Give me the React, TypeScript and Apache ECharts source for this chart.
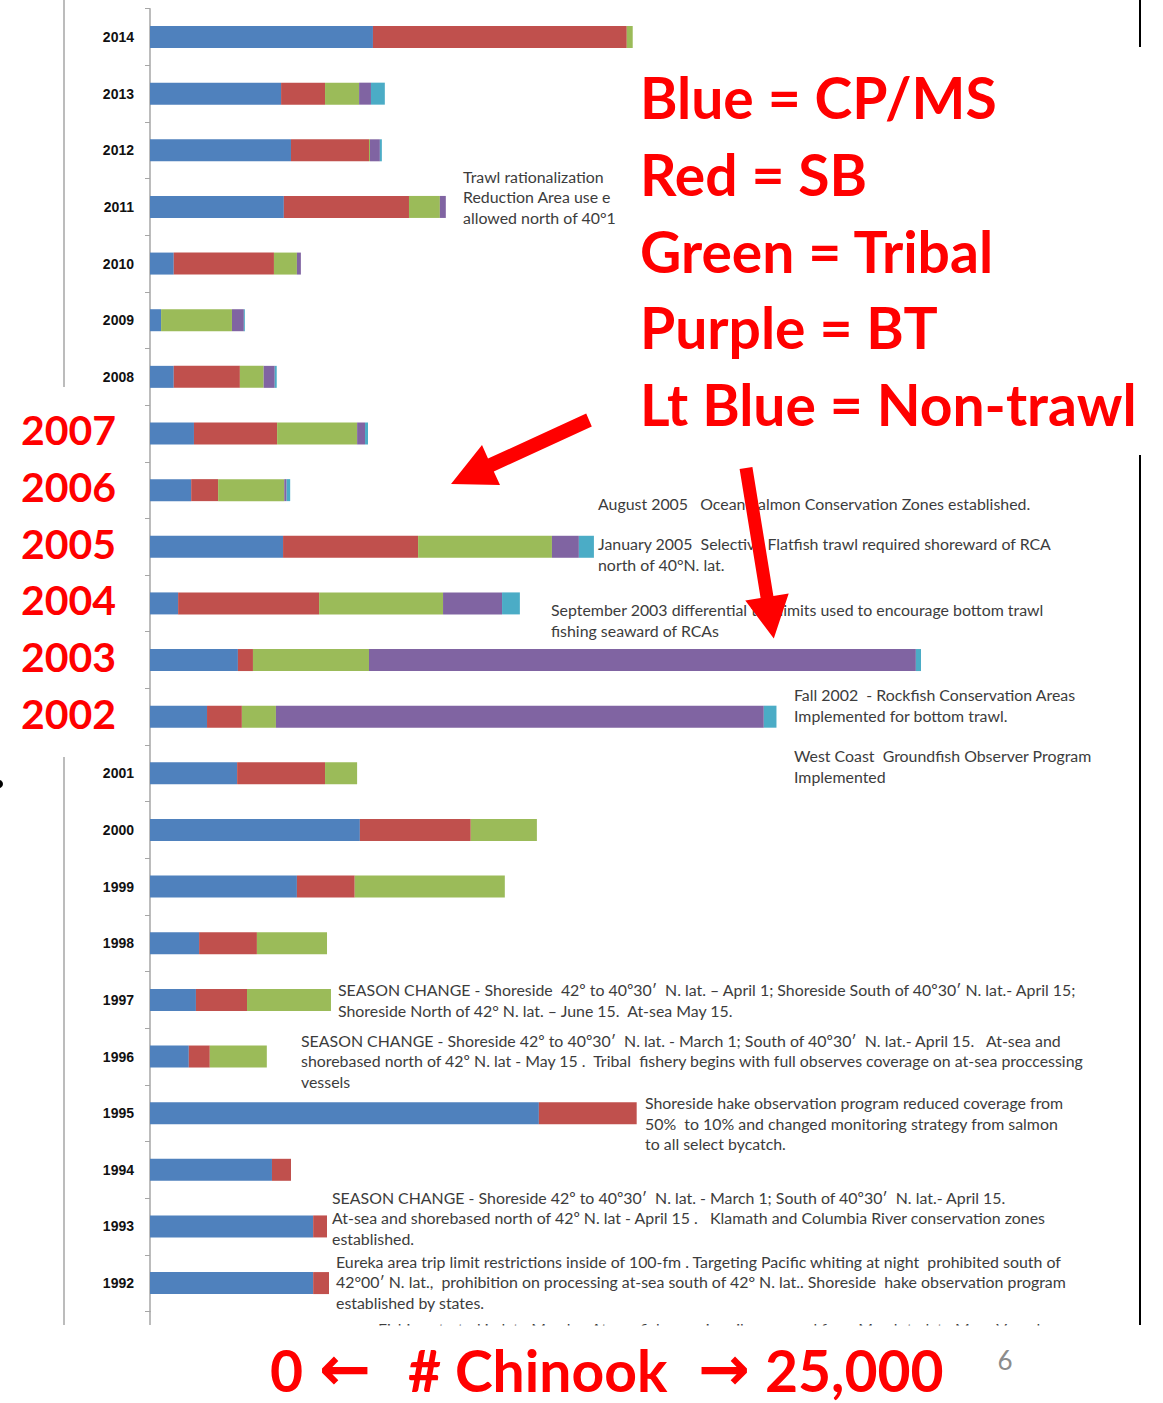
import React, { useEffect, useRef } from 'react';
import * as echarts from 'echarts';

// ---- Data (# Chinook) ----
const years = ['1992','1993','1994','1995','1996','1997','1998','1999','2000','2001','2002','2003','2004','2005','2006','2007','2008','2009','2010','2011','2012','2013','2014'];
const cpms =     [4120, 4120, 3080, 9820,  980, 1160, 1240, 3710, 5300, 2200,  1440,  2220,  710, 3360, 1040, 1110,  600,  280,  600, 3380, 3560, 3310, 5630];
const sb =       [ 400,  350,  480, 2470,  530, 1290, 1460, 1460, 2800, 2220,   880,   380, 3560, 3410,  680, 2100, 1670,    0, 2530, 3160, 1970, 1110, 6410];
const tribal =   [   0,    0,    0,    0, 1440, 2120, 1770, 3790, 1670,  810,   860,  2930, 3130, 3380, 1670, 2020,  600, 1790,  580,  780,   25,  860,  150];
const bt =       [   0,    0,    0,    0,    0,    0,    0,    0,    0,    0, 12320, 13810, 1490,  680,   60,  200,  280,  300,  100,  150,  250,  300,    0];
const nontrawl = [   0,    0,    0,    0,    0,    0,    0,    0,    0,    0,   320,   130,  450,  380,   90,   75,   50,   25,    0,    0,   50,  350,    0];

const seriesNames = ['CP/MS', 'SB', 'Tribal', 'BT', 'Non-trawl'];
const redYears = ['2002', '2003', '2004', '2005', '2006', '2007'];

const legendLines = ['Blue = CP/MS', 'Red = SB', 'Green = Tribal', 'Purple = BT', 'Lt Blue = Non-trawl'];

const notes = {
  trawl: ['Trawl rationalization', 'Reduction Area use e', 'allowed north of 40°1'],
  aug2005: ['August 2005   Ocean Salmon Conservation Zones established.'],
  jan2005: ['January 2005  Selective Flatfish trawl required shoreward of RCA', 'north of 40°N. lat.'],
  sep2003: ['September 2003 differential trip limits used to encourage bottom trawl', 'fishing seaward of RCAs'],
  fall2002: ['Fall 2002  - Rockfish Conservation Areas', 'Implemented for bottom trawl.'],
  wcgop: ['West Coast  Groundfish Observer Program', 'Implemented'],
  s1997: ['SEASON CHANGE - Shoreside  42º to 40º30′  N. lat. – April 1; Shoreside South of 40º30′ N. lat.- April 15;', 'Shoreside North of 42° N. lat. – June 15.  At-sea May 15.'],
  s1996: ['SEASON CHANGE - Shoreside 42º to 40º30′  N. lat. - March 1; South of 40º30′  N. lat.- April 15.   At-sea and', 'shorebased north of 42º N. lat - May 15 .  Tribal  fishery begins with full observes coverage on at-sea proccessing', 'vessels'],
  s1995: ['Shoreside hake observation program reduced coverage from', '50%  to 10% and changed monitoring strategy from salmon', 'to all select bycatch.'],
  s1993: ['SEASON CHANGE - Shoreside 42º to 40º30′  N. lat. - March 1; South of 40º30′  N. lat.- April 15.', 'At-sea and shorebased north of 42º N. lat - April 15 .   Klamath and Columbia River conservation zones', 'established.'],
  s1992: ['Eureka area trip limit restrictions inside of 100-fm . Targeting Pacific whiting at night  prohibited south of', '42°00′ N. lat.,  prohibition on processing at-sea south of 42° N. lat.. Shoreside  hake observation program', 'established by states.'],
  s1991: ['Fishing started in late March.   At-sea fishery primarily occurred from March to late May.  Vessels'],
};

const axisLabels = { zero: '0', left: '←', title: '# Chinook', right: '→', max: '25,000' };

// ---- styles ----
const colors = ['#4F81BD', '#C0504D', '#9BBB59', '#8064A2', '#4BACC6'];
const noteFont = 'Lato';
const noteColor = '#3c3c3c';

function noteText(lines: string[], x: number, firstCenterY: number, lh = 20.3) {
  return {
    type: 'text',
    x,
    y: firstCenterY - lh / 2,
    z: 5,
    style: {
      text: lines.join('\n'),
      fontSize: 15.9,
      fontFamily: noteFont,
      fill: noteColor,
      lineHeight: lh,
      align: 'left',
      verticalAlign: 'top',
    },
  };
}

export default function App() {
  const ref = useRef<HTMLDivElement>(null);

  useEffect(() => {
    if (!ref.current) return;
    const chart = echarts.init(ref.current, null, { renderer: 'svg' });
    const values = [cpms, sb, tribal, bt, nontrawl];

    const graphic: any[] = [
      // page border lines
      { type: 'line', z: 1, shape: { x1: 64, y1: 0, x2: 64, y2: 387 }, style: { stroke: '#a6a6a6', lineWidth: 1.5 } },
      { type: 'line', z: 1, shape: { x1: 64, y1: 757, x2: 64, y2: 1325 }, style: { stroke: '#a6a6a6', lineWidth: 1.5 } },
      { type: 'line', z: 1, shape: { x1: 1140, y1: 0, x2: 1140, y2: 47 }, style: { stroke: '#000', lineWidth: 2 } },
      { type: 'line', z: 1, shape: { x1: 1140, y1: 455, x2: 1140, y2: 1325 }, style: { stroke: '#000', lineWidth: 2 } },
      // axis continues below the cut
      { type: 'line', z: 1, shape: { x1: 150, y1: 1311, x2: 150, y2: 1325 }, style: { stroke: '#a6a6a6', lineWidth: 1.5 } },
      { type: 'circle', z: 1, shape: { cx: -1, cy: 784, r: 4 }, style: { fill: '#000' } },

      noteText(notes.trawl, 463, 176.5),
      noteText(notes.aug2005, 598, 503.5),
      noteText(notes.jan2005, 598, 544),
      noteText(notes.sep2003, 551, 610),
      noteText(notes.fall2002, 794, 695),
      noteText(notes.wcgop, 794, 756),
      noteText(notes.s1997, 338, 990),
      noteText(notes.s1996, 301, 1040.5),
      noteText(notes.s1995, 645, 1103),
      noteText(notes.s1993, 332, 1197.5),
      noteText(notes.s1992, 336, 1261.5),
      noteText(notes.s1991, 378, 1328, 16),
      // cut line of the pasted picture
      { type: 'rect', z: 6, shape: { x: 300, y: 1325.5, width: 850, height: 14 }, style: { fill: '#fff' } },
    ];

    legendLines.forEach((t, i) => {
      graphic.push({
        type: 'text', x: 640, y: 97 + i * 76.8, z: 8,
        style: { text: t, fontSize: 57, fontWeight: 'bold', fontFamily: 'Lato', fill: '#ff0000', align: 'left', verticalAlign: 'middle' },
      });
    });

    // red arrows
    graphic.push({
      type: 'polygon', z: 9,
      shape: { points: [[451, 484], [482, 445], [488, 458.6], [586.2, 413.6], [591.8, 426.4], [493.8, 471.4], [500, 485]] },
      style: { fill: '#ff0000' },
    });
    graphic.push({
      type: 'polygon', z: 9,
      shape: { points: [[739.6, 469], [752.4, 467], [773.4, 596], [788.7, 593.5], [773.8, 638.5], [745.3, 600.5], [760.6, 598]] },
      style: { fill: '#ff0000' },
    });

    // bottom axis caption
    const capStyle = { fontSize: 57, lineHeight: 56, fontWeight: 'bold', fontFamily: 'Lato', fill: '#ff0000', verticalAlign: 'middle', align: 'left' };
    const arrowStyle = { ...capStyle, fontFamily: 'DejaVu Sans', fontSize: 62, lineHeight: 56 };
    graphic.push({ type: 'text', x: 270, y: 1370, z: 8, style: { ...capStyle, text: axisLabels.zero } });
    graphic.push({ type: 'text', x: 319, y: 1368, z: 8, style: { ...arrowStyle, text: axisLabels.left } });
    graphic.push({ type: 'text', x: 408, y: 1370, z: 8, style: { ...capStyle, text: axisLabels.title } });
    graphic.push({ type: 'text', x: 698, y: 1368, z: 8, style: { ...arrowStyle, text: axisLabels.right } });
    graphic.push({ type: 'text', x: 765, y: 1370, z: 8, style: { ...capStyle, text: axisLabels.max } });
    graphic.push({ type: 'text', x: 1005, y: 1360, z: 8, style: { text: '6', fontSize: 26, lineHeight: 28, fontFamily: 'Lato', fill: '#8c8c8c', align: 'center', verticalAlign: 'middle' } });

    const option: any = {
      animation: false,
      backgroundColor: '#ffffff',
      grid: [
        { left: 150, right: 23, top: 8.7, height: 1302.7, containLabel: false, outerBoundsMode: 'none' },
        // same band layout, nudged up slightly for the large red year captions
        { left: 150, right: 23, top: 5.2, height: 1302.7, containLabel: false, outerBoundsMode: 'none' },
      ],
      xAxis: [
        { type: 'value', min: 0, max: 25000, show: false, gridIndex: 0 },
        { type: 'value', min: 0, max: 25000, show: false, gridIndex: 1 },
      ],
      yAxis: [
        {
          type: 'category', data: years, position: 'left', gridIndex: 0,
          axisLine: { show: true, lineStyle: { color: '#a6a6a6', width: 1.5 } },
          axisTick: { show: true, length: 5, inside: false, lineStyle: { color: '#a6a6a6' } },
          axisLabel: {
            interval: 0, margin: 16, color: '#111', fontWeight: 'bold', fontSize: 14, fontFamily: 'Liberation Sans',
            formatter: (v: string) => (redYears.includes(v) ? '' : v),
          },
          splitLine: { show: false },
        },
        {
          type: 'category', data: years, position: 'left', gridIndex: 1,
          axisLine: { show: false }, axisTick: { show: false },
          axisLabel: {
            interval: 0, margin: 34, color: '#ff0000', fontWeight: 'bold', fontSize: 41, fontFamily: 'Lato',
            formatter: (v: string) => (redYears.includes(v) ? v : ''),
          },
          splitLine: { show: false },
        },
      ],
      series: seriesNames.map((name, i) => ({
        name, type: 'bar', stack: 'total', xAxisIndex: 0, yAxisIndex: 0, barWidth: 22,
        itemStyle: { color: colors[i] },
        data: values[i],
      })),
      graphic,
    };

    chart.setOption(option);
    return () => chart.dispose();
  }, []);

  return <div ref={ref} style={{ position: 'absolute', left: 0, top: 0, width: 1163, height: 1403 }} />;
}
